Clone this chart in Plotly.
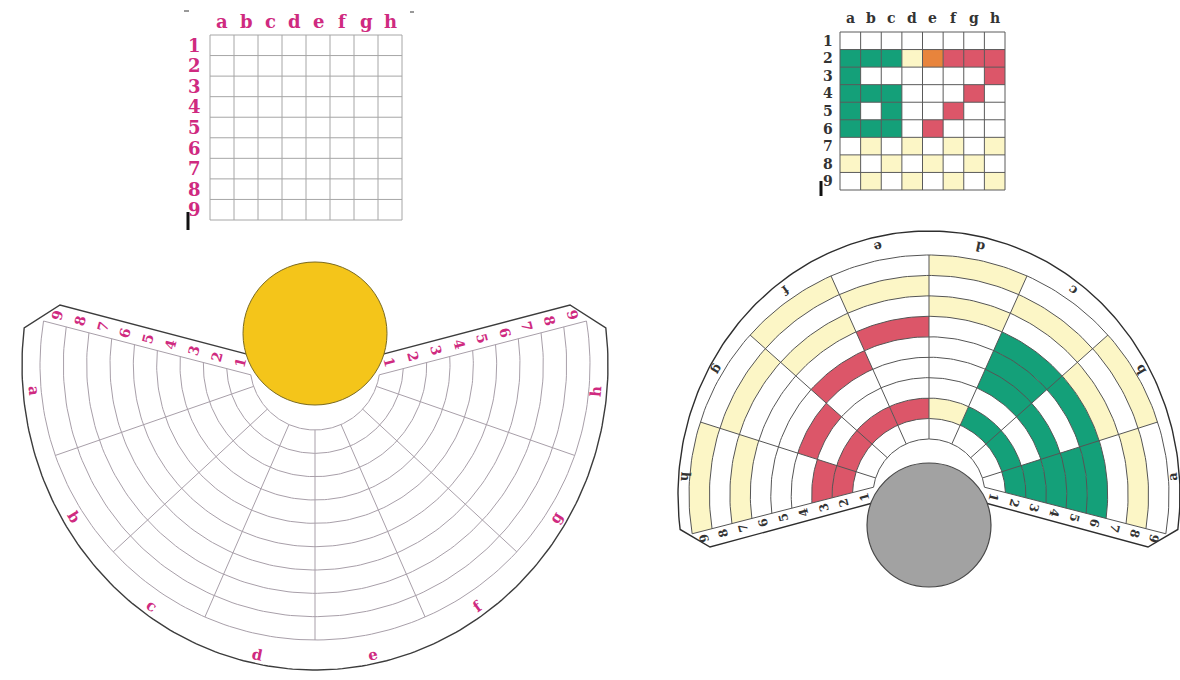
import numpy as np
import plotly.graph_objects as go

# ---------------- data ----------------
COLS = ["a", "b", "c", "d", "e", "f", "g", "h"]
ROWS = ["1", "2", "3", "4", "5", "6", "7", "8", "9"]
# coloured worksheet (right): one string per row, columns a..h ; '.' = blank
FILLED_ROWS = [
    "........",
    "GGGYORRR",
    "G......R",
    "GGG...R.",
    "G.G..R..",
    "GGG.R...",
    ".Y.Y.Y.Y",
    "Y.Y.Y.Y.",
    ".Y.Y.Y.Y",
]
BLANK_ROWS = ["." * len(COLS)] * len(ROWS)
GRID_COLORS = {"G": "#14a079", "R": "#dc5669", "O": "#e8843c", "Y": "#fcf6c6"}
FAN_COLORS = {"G": "#14a079", "R": "#dc5669", "O": "#dc5669", "Y": "#fcf6c6"}

# ---------------- layout constants ----------------
W, H = 1180, 680
FONT = "DejaVu Serif"
MAGENTA = "#cf2a80"
DARK = "#333333"

GRID_L = dict(box=(210, 35, 402, 220), line="#a6a6a6", lw=1, col_y=21, row_x=194, fs=18, fc=MAGENTA)
GRID_R = dict(box=(840, 32, 1005, 190), line="#5a5a5a", lw=1, col_y=18, row_x=828, fs=14, fc=DARK)

FAN_L = dict(cx=315, cy=365, flip=1, r_in=65, r_out=275, b0=199.2, step=23.6,
             e_in=188.7, e_out=170.8, gap=19, c1=(-255, 60), rx=293, ry=305, phi=173.0,
             lab_rx=282, lab_ry=296, line="#a89fa9", lw=1, outline="#3c3c3c", fc=MAGENTA, fs_l=15, fs_n=14)
FAN_R = dict(cx=929, cy=495, flip=-1, r_in=56, r_out=240, b0=197.7, step=24.1,
             e_in=188.0, e_out=170.7, gap=15, c1=(-219, 52), rx=251, ry=264, phi=172.5,
             lab_rx=244, lab_ry=254, line="#555555", lw=1, outline="#2e2e2e", fc=DARK, fs_l=13, fs_n=12)

fig = go.Figure()
annots = []


def add_polys(polys, color):
    xs, ys = [], []
    for px, py in polys:
        xs += list(px) + [px[0], None]
        ys += list(py) + [py[0], None]
    fig.add_trace(go.Scatter(x=xs, y=ys, mode="lines", fill="toself", fillcolor=color,
                             line=dict(width=0, color=color), hoverinfo="skip", showlegend=False))


def add_lines(segs, color, width):
    xs, ys = [], []
    for px, py in segs:
        xs += list(px) + [None]
        ys += list(py) + [None]
    fig.add_trace(go.Scatter(x=xs, y=ys, mode="lines", line=dict(color=color, width=width),
                             hoverinfo="skip", showlegend=False))


def text(x, y, s, size, color, angle=0.0):
    angle = (angle + 180) % 360 - 180
    annots.append(dict(x=float(x), y=float(y), text=f"<b>{s}</b>", showarrow=False, textangle=angle,
                       font=dict(family=FONT, size=size, color=color), xanchor="center", yanchor="middle"))


def rect_grid(g, rows, palette):
    x0, y0, x1, y1 = g["box"]
    cw = (x1 - x0) / len(COLS)
    rh = (y1 - y0) / len(ROWS)
    for code, color in palette.items():
        polys = []
        for i, row in enumerate(rows):
            for j, ch in enumerate(row):
                if ch == code:
                    xa, xb = x0 + j * cw, x0 + (j + 1) * cw
                    ya, yb = y0 + i * rh, y0 + (i + 1) * rh
                    polys.append(([xa, xb, xb, xa], [ya, ya, yb, yb]))
        if polys:
            add_polys(polys, color)
    segs = [([x0 + j * cw] * 2, [y0, y1]) for j in range(len(COLS) + 1)]
    segs += [([x0, x1], [y0 + i * rh] * 2) for i in range(len(ROWS) + 1)]
    add_lines(segs, g["line"], g["lw"])
    for j, c in enumerate(COLS):
        text(x0 + (j + 0.5) * cw, g["col_y"], c, g["fs"], g["fc"])
    for i, r in enumerate(ROWS):
        text(g["row_x"], y0 + (i + 0.5) * rh, r, g["fs"], g["fc"])


def fan(p, rows, palette):
    cx, cy, flip = p["cx"], p["cy"], p["flip"]

    def topx(x, y):
        x = np.asarray(x, float)
        y = np.asarray(y, float)
        return cx + flip * x, cy - flip * y

    def pol(r, th):
        t = np.radians(th)
        return r * np.cos(t), r * np.sin(t)

    radii = np.linspace(p["r_in"], p["r_out"], len(ROWS) + 1)
    bounds = p["b0"] + p["step"] * np.arange(len(COLS) - 1)
    Pin = np.array(pol(p["r_in"], p["e_in"]))
    Pout = np.array(pol(p["r_out"], p["e_out"]))
    mir = np.array([-1.0, 1.0])

    def edge(side):
        return (Pin, Pout) if side == 0 else (Pin * mir, Pout * mir)

    def edge_point(r, side):
        P0, P1 = edge(side)
        D = P1 - P0
        a = D @ D
        b = 2 * P0 @ D
        c = P0 @ P0 - r * r
        t = (-b + np.sqrt(max(b * b - 4 * a * c, 0))) / (2 * a)
        return P0 + t * D

    def edge_ang(r, side):
        Q = edge_point(r, side)
        ang = np.degrees(np.arctan2(Q[1], Q[0])) % 360
        if side == 1 and ang < 180:
            ang += 360
        return ang

    def lo(j, r):
        return edge_ang(r, 0) if j == 0 else bounds[j - 1]

    def hi(j, r):
        return edge_ang(r, 1) if j == len(COLS) - 1 else bounds[j]

    def arc(r, a0, a1, n=16):
        return pol(r, np.linspace(a0, a1, n))

    # coloured cells
    for code, color in palette.items():
        polys = []
        for k, row in enumerate(rows):
            for j, ch in enumerate(row):
                if ch != code:
                    continue
                r0, r1 = radii[k], radii[k + 1]
                xa, ya = arc(r0, lo(j, r0), hi(j, r0))
                xb, yb = arc(r1, hi(j, r1), lo(j, r1))
                polys.append(topx(np.concatenate([xa, xb]), np.concatenate([ya, yb])))
        if polys:
            add_polys(polys, color)

    # grid lines
    segs = []
    for r in radii:
        segs.append(topx(*arc(r, edge_ang(r, 0), edge_ang(r, 1), 160)))
    for b in bounds:
        segs.append(topx(*pol(np.array([p["r_in"], p["r_out"]]), b)))
    for side in (0, 1):
        P0, P1 = edge(side)
        segs.append(topx([P0[0], P1[0]], [P0[1], P1[1]]))
    add_lines(segs, p["line"], p["lw"])

    # outline
    D = Pout - Pin
    n = np.array([D[1], -D[0]]) / np.hypot(*D)
    S = Pin + p["gap"] * n
    c1 = np.array(p["c1"], float)
    phis = np.radians(np.linspace(p["phi"], 540 - p["phi"], 200))
    ox = list(p["rx"] * np.cos(phis))
    oy = list(p["ry"] * np.sin(phis))
    X = [S[0], c1[0]] + ox + [-c1[0], -S[0]]
    Y = [S[1], c1[1]] + oy + [c1[1], S[1]]
    add_lines([topx(X, Y)], p["outline"], 1.4)

    # ring numbers along both straight edges
    extra = 0 if flip == 1 else 180
    thD = np.degrees(np.arctan2(D[1], D[0]))
    for k, lab in enumerate(ROWS):
        rm = (radii[k] + radii[k + 1]) / 2
        for side in (0, 1):
            Q = edge_point(rm, side)
            nn = n if side == 0 else n * mir
            L = Q + 0.5 * p["gap"] * nn
            x, y = topx(L[0], L[1])
            ang = (90 - thD) if side == 0 else (thD - 90)
            text(x, y, lab, p["fs_n"], p["fc"], ang + extra)

    # sector letters
    for j, lab in enumerate(COLS):
        m = (lo(j, p["r_out"]) + hi(j, p["r_out"])) / 2
        t = np.radians(m)
        x, y = topx(p["lab_rx"] * np.cos(t), p["lab_ry"] * np.sin(t))
        text(x, y, lab, p["fs_l"], p["fc"], -(m + 90) - extra)


rect_grid(GRID_L, BLANK_ROWS, GRID_COLORS)
rect_grid(GRID_R, FILLED_ROWS, GRID_COLORS)
fan(FAN_L, BLANK_ROWS, FAN_COLORS)
fan(FAN_R, FILLED_ROWS, FAN_COLORS)

# small registration marks on the worksheets
add_lines([([188, 188], [212, 230]), ([821, 821], [181, 196])], "#111111", 3)
add_lines([([184, 189], [11, 11]), ([410, 414], [12, 12])], "#777777", 1.5)

shapes = [
    dict(type="circle", xref="x", yref="y", x0=243, x1=387, y0=262, y1=405,
         fillcolor="#f4c51a", line=dict(color="#7a6a20", width=1), layer="above"),
    dict(type="circle", xref="x", yref="y", x0=867, x1=991, y0=463, y1=587,
         fillcolor="#a2a2a2", line=dict(color="#474747", width=1.2), layer="above"),
]

fig.update_layout(
    width=W, height=H, autosize=False,
    margin=dict(l=0, r=0, t=0, b=0),
    paper_bgcolor="white", plot_bgcolor="white",
    xaxis=dict(range=[0, W], visible=False, fixedrange=True),
    yaxis=dict(range=[H, 0], visible=False, fixedrange=True),
    shapes=shapes, annotations=annots, showlegend=False,
)
fig.write_html("out.html", config={"displayModeBar": False},
               post_script="document.body.style.margin='0';")
